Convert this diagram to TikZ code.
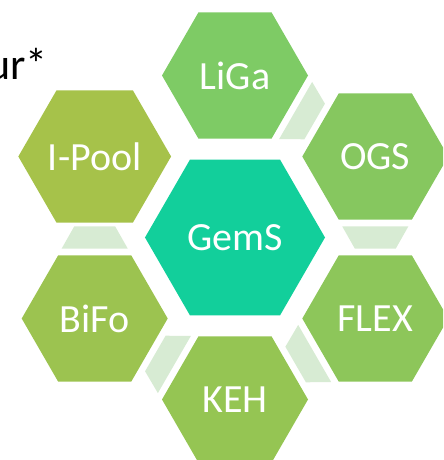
\documentclass[tikz,border=0pt]{standalone}
\usepackage{fontspec}
\setmainfont{Carlito}
\usetikzlibrary{shapes.geometric,calc}
\definecolor{gemsteal}{HTML}{12CF9B}
\definecolor{ligagreen}{HTML}{7ECB65}
\definecolor{ogsgreen}{HTML}{86C75F}
\definecolor{flexgreen}{HTML}{8DC65A}
\definecolor{kehgreen}{HTML}{95C553}
\definecolor{bifogreen}{HTML}{9CC350}
\definecolor{poolgreen}{HTML}{A6C24A}
\definecolor{linkgreen}{HTML}{D7EBD3}
\tikzset{
	hexnode/.style={regular polygon, regular polygon sides=6, inner sep=0pt, outer sep=0pt,
		minimum size=109.5pt, text=white, font=\fontsize{30}{36}\selectfont},
	hexlink/.style={fill=linkgreen}
}

\begin{document}
\begin{tikzpicture}[x=0.75pt, y=0.75pt]
	\useasboundingbox (-235,-222.5) rectangle (208,237.5);
	\clip (-235,-222.5) rectangle (208,237.5);
	% Hexagons:
	\node[hexnode, fill=gemsteal, minimum size=135pt] (gems) at (0,0) {GemS};
	\node[hexnode, fill=ligagreen] (liga) at (90:162) {LiGa};
	\node[hexnode, fill=ogsgreen] (ogs) at (30:162) {OGS};
	\node[hexnode, fill=flexgreen] (flex) at (-30:162) {FLEX};
	\node[hexnode, fill=kehgreen] (keh) at (-90:162) {KEH};
	\node[hexnode, fill=bifogreen] (bifo) at (-150:162) {BiFo};
	\node[hexnode, fill=poolgreen] (ipool) at (150:162) {I-Pool};
	% Links between neighbouring hexagons:
	\foreach \a/\b in {liga/ogs, ogs/flex, flex/keh, keh/bifo, bifo/ipool} {
		\coordinate (m) at ($(\a.center)!.5!(\b.center)$);
		\coordinate (p) at ($(m)!8.25pt!(\a.center)$);
		\coordinate (q) at ($(m)!8.25pt!(\b.center)$);
		\fill[hexlink] ($(p)!24.75pt!90:(\a.center)$) -- ($(p)!24.75pt!-90:(\a.center)$)
			-- ($(q)!15.4pt!90:(\b.center)$) -- ($(q)!15.4pt!-90:(\b.center)$) -- cycle;
	}
	% Title remnant:
	\node[anchor=base east, inner sep=0pt, font=\fontsize{33}{38}\selectfont] (tail) at (-187,157.5) {ur*};
\end{tikzpicture}
\end{document}
